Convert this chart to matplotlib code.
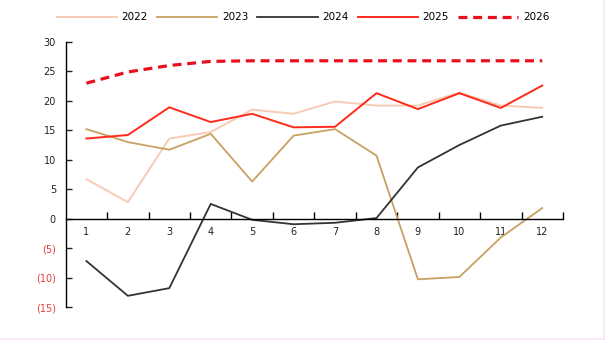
import matplotlib
matplotlib.use("Agg")
import matplotlib.pyplot as plt
from matplotlib.lines import Line2D
from matplotlib.ticker import FixedLocator, FuncFormatter

months = list(range(1, 13))
y2022 = [6.7, 2.8, 13.6, 14.7, 18.5, 17.8, 19.9, 19.2, 19.2, 21.4, 19.2, 18.8]
y2023 = [15.2, 13.0, 11.7, 14.4, 6.3, 14.1, 15.2, 10.7, -10.3, -9.9, -3.2, 1.8]
y2024 = [-7.2, -13.1, -11.8, 2.5, -0.2, -0.95, -0.7, 0.1, 8.7, 12.5, 15.8, 17.3]
y2025 = [13.6, 14.2, 18.9, 16.4, 17.8, 15.5, 15.6, 21.3, 18.6, 21.3, 18.8, 22.6]
y2026 = [23.0, 24.9, 26.0, 26.7, 26.8, 26.8, 26.8, 26.8, 26.8, 26.8, 26.8, 26.8]
yticks = [-15, -10, -5, 0, 5, 10, 15, 20, 25, 30]

fig = plt.figure(figsize=(6.06, 3.41), dpi=100)
ax = fig.add_axes([0.1084, 0.0997, 0.8206, 0.7773])

ax.plot(months, y2022, color="#f8cbb4", lw=1.4, label="2022")
ax.plot(months, y2023, color="#c9a062", lw=1.3, label="2023")
ax.plot(months, y2024, color="#333333", lw=1.3, label="2024")
ax.plot(months, y2025, color="#ff2a1a", lw=1.4, label="2025")
ax.plot(months, y2026, color="#e8101e", lw=2.3, linestyle=(0, (2.8, 1.8)), label="2026")

ax.set_xlim(0.5, 12.5)
ax.set_ylim(-15, 30)

ax.spines["top"].set_visible(False)
ax.spines["right"].set_visible(False)
ax.spines["bottom"].set_position(("data", 0))
ax.spines["bottom"].set_linewidth(1.0)
ax.spines["left"].set_linewidth(1.0)

ax.xaxis.set_major_locator(FixedLocator(months))
ax.xaxis.set_minor_locator(FixedLocator([m + 0.5 for m in months]))
ax.tick_params(axis="x", which="major", length=0, pad=6, labelsize=7, colors="#222222")
ax.tick_params(axis="x", which="minor", direction="in", length=5, width=1.0)

ax.yaxis.set_major_locator(FixedLocator(yticks))
ax.yaxis.set_major_formatter(FuncFormatter(lambda v, p: f"({abs(int(v))})" if v < 0 else f"{int(v)}"))
ax.tick_params(axis="y", direction="in", length=4, width=1.0, pad=7, labelsize=7, colors="#222222")
for lbl, v in zip(ax.get_yticklabels(), yticks):
    if v < 0:
        lbl.set_color("#e83a3a")

ax.legend(loc="upper center", bbox_to_anchor=(0.5, 1.0), bbox_transform=fig.transFigure,
          ncol=5, frameon=False, fontsize=7.5, handlelength=5.8, handletextpad=0.45,
          columnspacing=0.85, borderaxespad=0.8)

# faint frame on the right and bottom edges
frame = "#f8e4f8"
fig.add_artist(Line2D([0.9965, 0.9965], [0.006, 1], transform=fig.transFigure, color=frame, lw=1.2))
fig.add_artist(Line2D([0, 0.9965], [0.006, 0.006], transform=fig.transFigure, color=frame, lw=1.2))

fig.savefig("out.png", dpi=100)
